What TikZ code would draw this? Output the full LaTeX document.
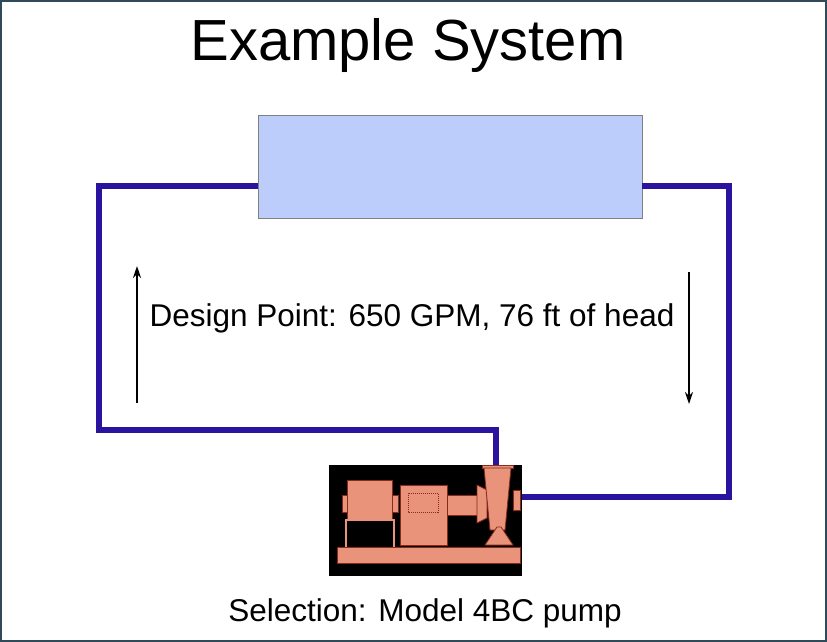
\documentclass[tikz,border=0pt]{standalone}
\usepackage{fontspec}
\setmainfont{Liberation Sans}
\usetikzlibrary{arrows.meta}
\definecolor{pipeblue}{HTML}{2A139E}
\definecolor{tankblue}{HTML}{BCCDFB}
\definecolor{pumpsalmon}{HTML}{E8937A}
\definecolor{pumpedge}{HTML}{8A2A1A}
\definecolor{frameline}{HTML}{2F4A58}
\tikzset{
  pipe/.style={draw=pipeblue, line width=6.5pt, line join=miter},
  flow/.style={draw=black, line width=1.8pt, -{Stealth[length=12pt,width=8pt]}},
  part/.style={fill=pumpsalmon, draw=pumpedge, line width=0.8pt},
}
\begin{document}
\begin{tikzpicture}[x=1pt,y=-1pt]
	\useasboundingbox (0,0) rectangle (827,642);
	\draw[draw=frameline, line width=1.5pt] (1,1) rectangle (826,641);

	% Title and labels
	\node (title) at (408,46) {\fontsize{58}{66}\selectfont Example System};
	\node (design) at (412,318) {\fontsize{31.5}{36}\selectfont Design Point: 650 GPM, 76 ft of head};
	\node (select) at (425,613) {\fontsize{31.5}{36}\selectfont Selection: Model 4BC pump};

	% Tank
	\node[draw=black!50, fill=tankblue, minimum width=384pt, minimum height=103pt, inner sep=0pt] (tank) at (450,166.5) {};

	% Pump
	\node[fill=black, minimum width=193pt, minimum height=111pt, inner sep=0pt] (pump) at (425.5,520.5) {};
	\coordinate (pumpin) at (496,465);
	\coordinate (pumpout) at (522,497);
	\draw[part] (342,495) rectangle (347,512);
	\draw[part] (347,480) rectangle (392,520);
	\draw[part] (392,495) rectangle (398,512);
	\draw[draw=pumpsalmon, line width=1.5pt] (346,520) rectangle (394,548);
	\draw[part] (400,485) rectangle (447,545);
	\draw[pumpedge, densely dotted, line width=1pt] (408,493) rectangle (438,512);
	\draw[part] (447,495) rectangle (477,515);
	\draw[part] (477,485) -- (487,490) -- (487,518) -- (477,523) -- cycle;
	\draw[part] (482,465) rectangle (513,468);
	\draw[part] (484,468) -- (511,468) -- (505,530) -- (490,530) -- cycle;
	\draw[part] (513,490) rectangle (520,510);
	\draw[part] (485,545) -- (497,527) -- (501,527) -- (513,545) -- cycle;
	\draw[part] (337,547) rectangle (520,563);

	% Piping
	\draw[pipe] (tank.west |- 0,186) -| (99,430) -| (pumpin);
	\draw[pipe] (tank.east |- 0,186) -| (729,497) -- (pumpout);

	% Flow arrows
	\coordinate (upS) at (137,403);
	\coordinate (upE) at (137,266);
	\coordinate (dnS) at (689,272);
	\coordinate (dnE) at (689,404);
	\draw[flow] (upS) -- (upE);
	\draw[flow] (dnS) -- (dnE);
\end{tikzpicture}
\end{document}
